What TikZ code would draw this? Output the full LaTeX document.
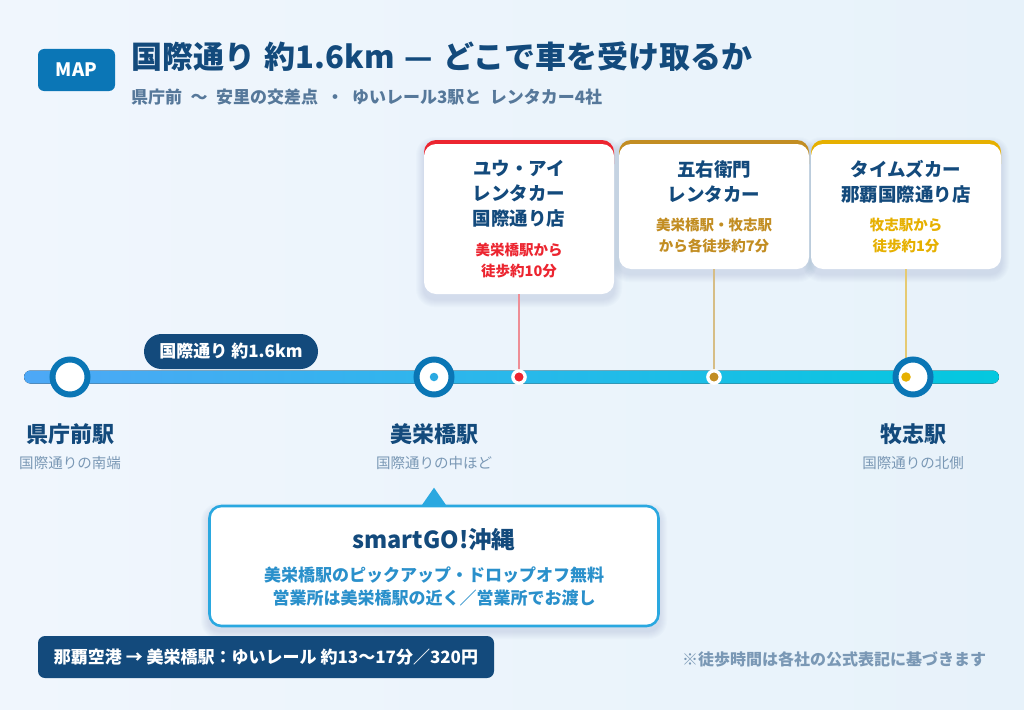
\documentclass[tikz,border=0pt]{standalone}
\usepackage{fontspec}
\setmainfont{Noto Sans CJK JP}
\definecolor{bgL}{HTML}{F0F6FD}
\definecolor{bgR}{HTML}{E7F2FA}
\definecolor{navy}{HTML}{134A7C}
\definecolor{mapblue}{HTML}{0B76B6}
\definecolor{subgray}{HTML}{56789A}
\definecolor{lightgray}{HTML}{7A98B5}
\definecolor{ring}{HTML}{0A76B5}
\definecolor{lineL}{HTML}{4EA8F6}
\definecolor{lineM}{HTML}{28B6EE}
\definecolor{lineR}{HTML}{03C8DF}
\definecolor{cred}{HTML}{EC2530}
\definecolor{cgold}{HTML}{C28D22}
\definecolor{cyel}{HTML}{E6B000}
\definecolor{pinred}{HTML}{EE8E96}
\definecolor{pingold}{HTML}{D6BD86}
\definecolor{pinyel}{HTML}{E6CA72}
\definecolor{sgblue}{HTML}{2AA8E0}
\definecolor{sgtext}{HTML}{2A90CB}
\definecolor{dotblue}{HTML}{2BA9E1}
\definecolor{shadowc}{HTML}{2A5C8C}
\newcommand\softshadow[4]{%
  \foreach \i in {1,...,8}{%
    \fill[shadowc, opacity=0.016, rounded corners={(10+\i)*1pt}]
      ({#1-\i},{#2-\i+5}) rectangle ({#3+\i},{#4+\i+5});
  }}
\tikzset{
  fsz/.style={font=\bfseries\fontsize{#1}{#1}\selectfont},
  txt/.style={inner sep=0pt, outer sep=0pt},
  mapbox/.style={txt, fill=mapblue, rounded corners=6pt, minimum width=77pt, minimum height=42pt, text=white, fsz=18.5},
  pill/.style={txt, fill=navy, rounded corners=17.5pt, minimum width=174pt, minimum height=35pt, text=white, fsz=17},
  station/.style={circle, draw=ring, fill=white, line width=6pt, minimum size=35pt, inner sep=0pt},
  marker/.style={circle, draw=white, line width=3.3pt, minimum size=12.3pt, inner sep=0pt},
  dot/.style={circle, minimum size=#1, inner sep=0pt},
  cardbody/.style={fill=white, rounded corners=12pt, inner sep=0pt, minimum width=190pt},
  cardtitle/.style={txt, align=center, text=navy, font=\bfseries\fontsize{18.5}{25}\selectfont},
  carddet/.style={txt, align=center, font=\bfseries\fontsize{14.5}{21}\selectfont},
  pinline/.style={line width=2pt},
  stname/.style={txt, text=navy, fsz=22},
  stsub/.style={txt, text=lightgray, font=\fontsize{14.5}{14.5}\selectfont},
}
\begin{document}
\begin{tikzpicture}[x=1pt,y=-1pt]
\useasboundingbox (0,0) rectangle (1024,709);
\fill[left color=bgL, right color=bgR] (0,0) rectangle (1024,709);

% header
\node[mapbox] (map) at (76.5,70) {MAP};
\node[txt, anchor=west, text=navy, fsz=31] (title) at (131,57) {\spaceskip=10pt 国際通り 約1.6km — どこで車を受け取るか};
\node[txt, anchor=west, text=subgray, fsz=17] (sub) at (131,97) {\spaceskip=8.5pt 県庁前 〜 安里の交差点 ・ ゆいレール3駅と レンタカー4社};

% rail
\coordinate (railL) at (24,377);
\coordinate (railR) at (999,377);
\fill[left color=lineL, middle color=lineM, right color=lineR, rounded corners=6.5pt] ([yshift=6.5pt]railL) rectangle ([yshift=-6.5pt]railR);

% cards
\softshadow{424}{140}{614}{294}
\softshadow{619}{140}{809}{269}
\softshadow{811}{140}{1001}{269}
\fill[cred, rounded corners=12pt] (424,140) rectangle (614,176);
\node[cardbody, minimum height=150pt] (c1) at (519,219) {};
\fill[cgold, rounded corners=12pt] (619,140) rectangle (809,176);
\node[cardbody, minimum height=125pt] (c2) at (714,206.5) {};
\fill[cyel, rounded corners=12pt] (811,140) rectangle (1001,176);
\node[cardbody, minimum height=125pt] (c3) at (906,206.5) {};

\node[cardtitle] (c1n) at (519,194) {ユウ・アイ\\レンタカー\\国際通り店};
\node[carddet, text=cred] (c1d) at (519,260.5) {美栄橋駅から\\徒歩約10分};
\node[cardtitle] (c2n) at (714,181.5) {五右衛門\\レンタカー};
\node[carddet, text=cgold] (c2d) at (714,235.5) {美栄橋駅・牧志駅\\から各徒歩約7分};
\node[cardtitle] (c3n) at (906,181.5) {タイムズカー\\那覇国際通り店};
\node[carddet, text=cyel] (c3d) at (906,235.5) {牧志駅から\\徒歩約1分};

% pill
\node[pill] (dist) at (231,351.5) {国際通り 約1.6km};

% markers and stations
\coordinate (m1c) at (519,377);
\coordinate (m2c) at (714,377);
\coordinate (d3c) at (906,377);
\draw[pinline, pinred] (c1.south) -- (m1c);
\draw[pinline, pingold] (c2.south) -- (m2c);
\draw[pinline, pinyel] (c3.south) -- (d3c);
\node[marker, fill=cred] (m1) at (m1c) {};
\node[marker, fill=cgold] (m2) at (m2c) {};
\node[station] (s1) at (70,377) {};
\node[station] (s2) at (434,377) {};
\node[dot=8.5pt, fill=dotblue] (d2) at (s2) {};
\node[station] (s3) at (913,377) {};
\node[dot=9.5pt, fill=cyel] (d3) at (d3c) {};

% station labels
\node[stname] (s1n) at (70,434) {県庁前駅};
\node[stsub] (s1s) at (70,463) {国際通りの南端};
\node[stname] (s2n) at (434,434) {美栄橋駅};
\node[stsub] (s2s) at (434,463) {国際通りの中ほど};
\node[stname] (s3n) at (913,434) {牧志駅};
\node[stsub] (s3s) at (913,463) {国際通りの北側};

% smartGO callout
\softshadow{209}{506}{659}{626}
\node[draw=sgblue, fill=white, line width=2.6pt, rounded corners=12pt, minimum width=449pt, minimum height=120pt, inner sep=0pt] (sg) at (434,566) {};
\fill[sgblue] ([xshift=-12.5pt,yshift=-1pt]sg.north) -- ([yshift=17pt]sg.north) -- ([xshift=12.5pt,yshift=-1pt]sg.north) -- cycle;
\node[txt, text=navy, fsz=23.5] (sgt) at (434,540) {smartGO!沖縄};
\node[txt, align=center, text=sgtext, font=\bfseries\fontsize{17}{23}\selectfont] (sgd) at (434,586.5) {美栄橋駅のピックアップ・ドロップオフ無料\\営業所は美栄橋駅の近く／営業所でお渡し};

% bottom
\node[txt, fill=navy, rounded corners=7pt, minimum width=456pt, minimum height=42pt, text=white, fsz=17] (air) at (266,657) {那覇空港 → 美栄橋駅：ゆいレール 約13〜17分／320円};
\node[txt, anchor=east, text=lightgray, fsz=16] (note) at (986,659) {※徒歩時間は各社の公式表記に基づきます};
\end{tikzpicture}
\end{document}
